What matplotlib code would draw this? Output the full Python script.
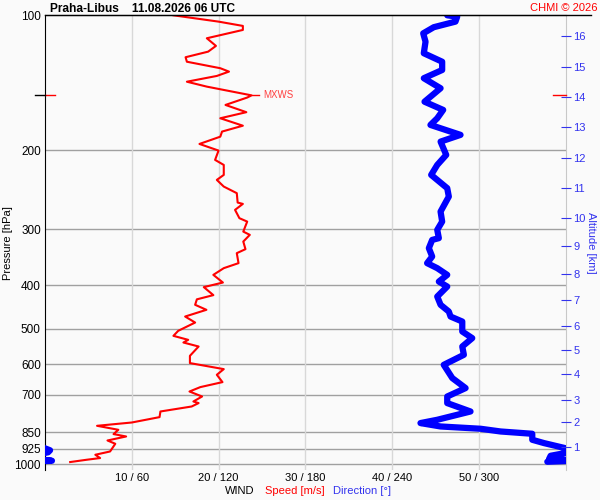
import numpy as np
import matplotlib
matplotlib.use('Agg')
import matplotlib.pyplot as plt
from matplotlib.lines import Line2D

plt.rcParams['font.family'] = ['Liberation Sans', 'DejaVu Sans']

# wind speed profile (m/s) vs pressure (hPa)
speed = [14.8, 20.0, 22.8, 22.8, 18.65, 19.7, 18.8, 16.2, 16.35, 20.2, 21.2, 19.8, 16.35, 18.65,
         23.8, 23.3, 20.8, 23.2, 20.2, 22.8, 20.4, 20.2, 17.8, 20.0, 19.6, 20.6, 20.6, 19.8, 20.6,
         22.1, 22.2, 22.8, 21.9, 22.4, 23.3, 22.85, 23.6, 22.85, 23.1, 22.1, 22.3, 20.6, 19.4, 20.5,
         18.3, 19.4, 17.5, 17.3, 18.6, 16.15, 17.3, 15.35, 14.8, 16.5, 15.95, 17.7, 16.7, 16.7, 20.6,
         19.8, 20.45, 17.9, 16.65, 18.1, 17.1, 17.7, 16.9, 13.3, 13.2, 10.0, 6.0, 8.45, 7.9, 9.35,
         7.2, 8.1, 7.5, 5.8, 6.35, 4.8, 2.9]
speed_p = [100.0, 103.3, 105.6, 107.8, 112.5, 117.0, 120.5, 124.0, 126.9, 131.2, 133.5, 136.5,
           140.6, 144.2, 150.8, 152.5, 158.4, 164.4, 169.6, 176.2, 181.6, 186.4, 193.5, 200.2,
           210.0, 215.5, 226.8, 232.7, 240.8, 249.1, 261.4, 263.2, 271.4, 283.2, 288.2, 303.4,
           308.5, 319.3, 332.0, 338.9, 356.7, 366.0, 378.8, 394.0, 403.4, 420.3, 429.5, 441.7,
           453.2, 469.1, 483.8, 504.8, 518.0, 528.7, 536.0, 547.1, 573.9, 595.7, 614.4, 632.5,
           656.8, 673.8, 689.2, 707.1, 725.4, 731.4, 744.3, 763.6, 786.0, 808.0, 821.8, 838.8,
           857.5, 868.1, 886.1, 901.2, 937.5, 953.4, 969.7, 978.2, 989.8]

# wind direction (deg) vs pressure (hPa)
direction = [278.1, 285.0, 283.8, 268.8, 261.5, 263.1, 261.9, 274.6, 274.6, 261.9, 273.5, 262.4,
             275.3, 271.2, 266.5, 287.3, 273.5, 277.4, 271.2, 267.0, 278.1, 279.2, 273.5, 274.6,
             271.2, 272.3, 267.7, 265.4, 267.7, 264.2, 271.2, 278.1, 272.3, 278.1, 271.2, 273.5,
             279.2, 280.4, 288.5, 288.5, 295.4, 288.5, 289.6, 275.7, 281.6, 290.8, 278.1, 278.1,
             294.2, 271.2, 259.6, 273.5, 301.2, 315.0, 336.9, 336.9, 345.0, 359.5, 3.5, 2.1,
             359.5, 349.6, 348.5, 359.5, 4.8, 347.3]
direction_p = [100.0, 100.7, 103.3, 106.3, 109.7, 114.5, 121.5, 126.9, 132.4, 138.1, 145.4, 155.8,
               162.5, 169.6, 175.5, 184.7, 191.2, 204.7, 215.5, 226.8, 242.8, 253.5, 273.8, 288.2,
               300.7, 313.8, 316.6, 330.3, 344.8, 356.7, 366.0, 378.8, 392.1, 402.2, 423.4, 441.7,
               457.2, 469.1, 481.3, 506.6, 524.1, 547.1, 570.9, 601.0, 643.3, 677.2, 707.1, 731.4,
               763.6, 796.8, 810.4, 824.6, 834.4, 846.1, 856.1, 882.9, 898.0, 921.3, 931.8, 941.4,
               945.3, 958.4, 974.7, 978.2, 983.2, 988.3]

p_ticks = [100, 200, 300, 400, 500, 600, 700, 850, 925, 1000]
speed_ticks = [10, 20, 30, 40, 50]

# altitude (km) and the pressure where it is reached
alt_km = list(range(1, 17))
alt_p = [915.3, 807.8, 719.3, 631.6, 558.4, 492.0, 430.6, 376.3, 326.5, 282.4, 242.5, 208.2,
         177.3, 152.0, 130.4, 111.2]

bg = '#fafafa'
red = '#ff0000'
blue = '#0000ff'
tblue = '#3333ee'

fig = plt.figure(figsize=(6, 5), dpi=100, facecolor=bg)
ax = fig.add_axes([0.075, 0.06, 0.8678, 0.9094])
ax.set_facecolor(bg)
ax.set_yscale('log')
ax.set_ylim(1031, 100)
ax.set_xlim(0, 60)

for p in p_ticks[1:]:
    ax.axhline(p, color='#a0a0a0', lw=1.0, zorder=1)
for s in speed_ticks:
    ax.axvline(s, color='#d8d8d8', lw=1.0, zorder=1)

ax.set_yticks(p_ticks)
ax.set_yticklabels([str(p) for p in p_ticks], fontsize=8.5)
ax.yaxis.set_minor_locator(matplotlib.ticker.NullLocator())
ax.tick_params(axis='y', length=0, pad=3)
ax.set_xticks(speed_ticks)
ax.set_xticklabels([f'{s} / {s * 6}' for s in speed_ticks], fontsize=8)
ax.tick_params(axis='x', length=0, pad=2)
ax.set_ylabel('Pressure [hPa]', fontsize=8, va='center')
ax.yaxis.set_label_coords(-0.071, 0.5)

ax.spines['bottom'].set_visible(False)
ax.spines['right'].set_color('#c8c8c8')
ax.spines['left'].set_color('black')
ax.spines['top'].set_color('black')

ax.plot(speed, speed_p, color=red, lw=1.5, zorder=3)

# max wind marker
imax = int(np.argmax(speed))
smax, pmax = speed[imax], speed_p[imax]
ax.plot([smax, smax + 0.9], [pmax, pmax], color=red, lw=1.0, zorder=3)
ax.text(smax + 1.3, pmax, 'MXWS', color='#ff4040', fontsize=7, va='center', ha='left')
ax.plot([0, 1.2], [pmax, pmax], color=red, lw=1.0, clip_on=False, zorder=4)
ax.plot([-1.2, 0], [pmax, pmax], color='black', lw=1.0, clip_on=False, zorder=4)
ax.plot([58.5, 60], [pmax, pmax], color=red, lw=1.0, clip_on=False, zorder=4)

# direction on its own 0-360 scale, wrapped at north
axd = ax.twiny()
axd.set_xlim(0, 360)
axd.set_xticks([])
for sp in axd.spines.values():
    sp.set_visible(False)
d_unw = np.rad2deg(np.unwrap(np.deg2rad(direction)))
for off in (-360, 0, 360):
    axd.plot(d_unw + off, direction_p, color=blue, lw=4.5, solid_capstyle='round',
             solid_joinstyle='round', zorder=3)

# altitude axis
axa = ax.twinx()
axa.set_yscale('log')
axa.set_ylim(ax.get_ylim())
axa.set_yticks(alt_p)
axa.set_yticklabels([str(a) for a in alt_km], fontsize=8, color=tblue)
axa.yaxis.set_minor_locator(matplotlib.ticker.NullLocator())
axa.tick_params(axis='y', direction='inout', length=7, color=tblue, pad=2)
for sp in axa.spines.values():
    sp.set_visible(False)
axa.set_ylabel('Altitude [km]', color=tblue, fontsize=8, rotation=270, va='center')
axa.yaxis.set_label_coords(1.0486, 0.5)

# long top line
fig.add_artist(Line2D([0.075, 0.985], [0.9694, 0.9694], color='black', lw=1.0))

fig.text(0.083, 0.982, 'Praha-Libus    11.08.2026 06 UTC', fontsize=8.6, fontweight='bold',
         va='center', ha='left')
fig.text(0.995, 0.984, 'CHMI © 2026', color=red, fontsize=8, va='center', ha='right')

fig.text(0.375, 0.018, 'WIND', fontsize=8, va='center', ha='left')
fig.text(0.441, 0.018, 'Speed [m/s]', fontsize=8, color=red, va='center', ha='left')
fig.text(0.555, 0.018, 'Direction [°]', fontsize=8, color=tblue, va='center', ha='left')

fig.savefig('out.png', dpi=100, facecolor=bg)
